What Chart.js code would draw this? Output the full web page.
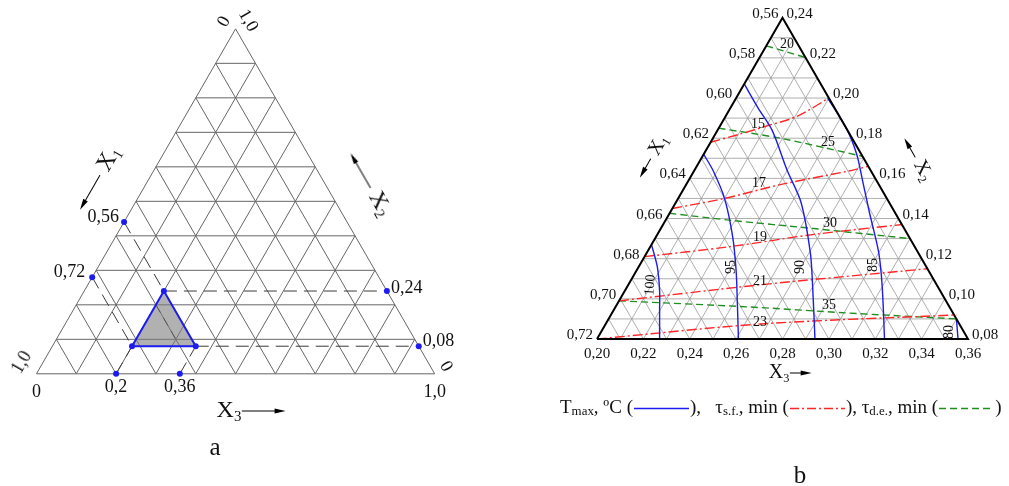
<!DOCTYPE html>
<html><head><meta charset="utf-8">
<script src="https://cdn.jsdelivr.net/npm/chart.js@4.4.1/dist/chart.umd.min.js"></script>
<style>
html,body{margin:0;padding:0;background:#fff;}
#wrap{position:relative;width:1009px;height:486px;overflow:hidden;font-family:"Liberation Serif","Times New Roman",serif;color:#111;}
canvas{position:absolute;top:0;}
.lbl{position:absolute;white-space:nowrap;line-height:1;}
.lbl sub{font-size:0.62em;vertical-align:baseline;position:relative;top:0.3em;}
.sb{font-size:0.68em;position:relative;top:0.15em;}
</style></head><body>
<div id="wrap">
<canvas id="ca" width="480" height="486" style="left:0"></canvas>
<canvas id="cb" width="509" height="486" style="left:500px"></canvas>
</div>
<script>
// ===== Diagram a: full simplex, grid step 0.1 =====
const aGrid = [0.1,0.2,0.3,0.4,0.5,0.6,0.7,0.8,0.9];
const aRegionX1 = [0.56, 0.72];
const aRegionX2 = [0.08, 0.24];
const aRegionX3 = [0.20, 0.36];
const aInnerGuide = [[0.20,0.20],[0.31,0.09]]; // [X3, X2]

// ===== Diagram b: local simplex X1 0.56-0.72, X2 0.08-0.24, X3 0.20-0.36 =====
const bGridX1 = [0.57,0.58,0.59,0.60,0.61,0.62,0.63,0.64,0.65,0.66,0.67,0.68,0.69,0.70,0.71];
const bGridX2 = [0.09,0.10,0.11,0.12,0.13,0.14,0.15,0.16,0.17,0.18,0.19,0.20,0.21,0.22,0.23];
const bGridX3 = [0.21,0.22,0.23,0.24,0.25,0.26,0.27,0.28,0.29,0.30,0.31,0.32,0.33,0.34,0.35];
const bTickX1 = [0.56,0.58,0.60,0.62,0.64,0.66,0.68,0.70,0.72];
const bTickX2 = [0.24,0.22,0.20,0.18,0.16,0.14,0.12,0.10,0.08];
const bTickX3 = [0.20,0.22,0.24,0.26,0.28,0.30,0.32,0.34,0.36];

// Tmax isotherms, points [X3, X2]
const tmax100 = [[0.200,0.127],[0.208,0.116],[0.215,0.104],[0.220,0.094],[0.227,0.080]];
const tmax95  = [[0.200,0.172],[0.208,0.164],[0.220,0.150],[0.233,0.131],[0.243,0.114],[0.251,0.099],[0.261,0.080]];
const tmax90  = [[0.200,0.207],[0.212,0.195],[0.2235,0.184],[0.240,0.164],[0.254,0.148],[0.2705,0.123],[0.280,0.106],[0.294,0.080]];
const tmax85  = [[0.2395,0.200],[0.255,0.185],[0.266,0.172],[0.275,0.159],[0.286,0.143],[0.300,0.123],[0.310,0.106],[0.324,0.080]];
const tmax80  = [[0.350,0.090],[0.3557,0.080]];
// tau s.f. lines
const tsf15 = [[0.200,0.178],[0.2105,0.182],[0.220,0.186],[0.231,0.191],[0.240,0.200]];
const tsf17 = [[0.200,0.145],[0.220,0.150],[0.241,0.157],[0.268,0.164],[0.274,0.166]];
const tsf19 = [[0.200,0.121],[0.2345,0.126],[0.267,0.132],[0.303,0.137]];
const tsf21 = [[0.200,0.099],[0.257,0.107],[0.325,0.115]];
const tsf23 = [[0.200,0.080],[0.267,0.0875],[0.349,0.092]];
// tau d.e. lines
const tde20 = [[0.200,0.226],[0.2205,0.220]];
const tde25 = [[0.200,0.185],[0.229,0.180],[0.269,0.171]];
const tde30 = [[0.200,0.1426],[0.229,0.139],[0.266,0.135],[0.310,0.130]];
const tde35 = [[0.200,0.099],[0.257,0.096],[0.301,0.093],[0.350,0.090]];
// labels [text, X3, X2, rotation]
const tmaxLabels = [["100",0.2094,0.1068,-86],["95",0.2399,0.1158,-90],["90",0.2697,0.1158,-90],["85",0.3006,0.1168,-90],["80",0.3501,0.0835,-90]];
const tsfLabels = [["15",0.2158,0.1873],["17",0.2311,0.1575],["19",0.245,0.1307],["21",0.2559,0.1088],["23",0.2661,0.0884]];
const tdeLabels = [["20",0.2084,0.2271],["25",0.2507,0.1779],["30",0.2717,0.1376],["35",0.2916,0.0969]];

const S = Math.sqrt(3)/2;
const BLUE = '#1c1cf0', RED = '#ff2626', GREEN = '#1f8f1f';
function cartA(x3, x2){ return {x: x3 + x2/2, y: x2*S}; }
function cartB(x3, x2){ return {x: x3 + (x2-0.08)/2, y: (x2-0.08)*S}; }
function line(pts, color, width, dash, order, tension){
  return {data: pts, showLine: true, pointRadius: 0, borderColor: color, borderWidth: width,
          borderDash: dash || [], fill: false, order: order, tension: tension || 0, borderCapStyle:'butt'};
}
function frame(K, baseX, baseLeftPx, baseYPx, w, h){
  const xmin = baseX - baseLeftPx/K;
  const ymax = baseYPx/K;
  return {xmin, xmax: xmin + w/K, ymin: ymax - h/K, ymax};
}
function makeChart(id, datasets, f){
  return new Chart(document.getElementById(id), {
    type: 'scatter',
    data: {datasets},
    options: {
      responsive: false, animation: false, events: [],
      layout: {padding: 0},
      plugins: {legend: {display: false}, tooltip: {enabled: false}, title: {display: false}},
      scales: {
        x: {type: 'linear', display: false, min: f.xmin, max: f.xmax},
        y: {type: 'linear', display: false, min: f.ymin, max: f.ymax}
      }
    }
  });
}

// ---------- chart a ----------
const dsA = [];
const gA = '#666666';
aGrid.forEach(v => {
  dsA.push(line([cartA(0, v), cartA(1 - v, v)], gA, 1, [], 20));
  dsA.push(line([cartA(v, 0), cartA(v, 1 - v)], gA, 1, [], 20));
  dsA.push(line([cartA(0, 1 - v), cartA(1 - v, 0)], gA, 1, [], 20));
});
dsA.push(line([cartA(0,0), cartA(1,0), cartA(0,1), cartA(0,0)], gA, 1, [], 19));
const [r1lo, r1hi] = aRegionX1, [r2lo, r2hi] = aRegionX2, [r3lo, r3hi] = aRegionX3;
const vBL = cartA(r3lo, r2lo), vT = cartA(r3lo, r2hi), vBR = cartA(r3hi, r2lo);
// shaded region
dsA.push({data: [vBL, vT, vBR], showLine: true, pointRadius: 0, borderWidth: 0, borderColor: 'rgba(0,0,0,0)',
          backgroundColor: 'rgba(125,125,125,0.6)', fill: {value: vBL.y}, order: 14});
// dashed guides
const dA = '#3a3a3a', dashA = [13, 7];
dsA.push(line([vT, cartA(1 - r2hi, r2hi)], dA, 1, dashA, 10));
dsA.push(line([vBR, cartA(1 - r2lo, r2lo)], dA, 1, dashA, 10));
dsA.push(line([cartA(0, 1 - r1lo), vT], dA, 1, dashA, 10));
dsA.push(line([cartA(0, 1 - r1hi), vBL], dA, 1, dashA, 10));
dsA.push(line([cartA(r3lo, 0), vBL], dA, 1, dashA, 10));
dsA.push(line([cartA(r3hi, 0), vBR], dA, 1, dashA, 10));
dsA.push(line(aInnerGuide.map(p => cartA(p[0], p[1])), '#555', 1, [9, 6], 10));
// region border
dsA.push(line([vBL, vT, vBR, vBL], BLUE, 2, [], 5));
// marker dots
const dotsA = [cartA(0, 1 - r1lo), cartA(0, 1 - r1hi), cartA(1 - r2hi, r2hi), cartA(1 - r2lo, r2lo),
               cartA(r3lo, 0), cartA(r3hi, 0), vBL, vT, vBR];
dsA.push({data: dotsA, showLine: false, pointRadius: 3, pointBackgroundColor: BLUE, pointBorderColor: BLUE, pointBorderWidth: 0, order: 1});
const fA = frame(405, 0, 33, 376, 480, 486);
const chartA = makeChart('ca', dsA, fA);

// ---------- chart b ----------
const dsB = [];
const gB = '#9a9a9a';
bGridX2.forEach(v => dsB.push(line([cartB(0.20, v), cartB(0.44 - v, v)], gB, 0.8, [], 20)));
bGridX3.forEach(c => dsB.push(line([cartB(c, 0.08), cartB(c, 0.44 - c)], gB, 0.8, [], 20)));
bGridX1.forEach(a => dsB.push(line([cartB(0.20, 0.80 - a), cartB(0.92 - a, 0.08)], gB, 0.8, [], 20)));
const toB = arr => arr.map(p => cartB(p[0], p[1]));
[tmax100, tmax95, tmax90, tmax85, tmax80].forEach(c => dsB.push(line(toB(c), BLUE, 1.4, [], 8, 0.3)));
[tsf15, tsf17, tsf19, tsf21, tsf23].forEach(c => dsB.push(line(toB(c), RED, 1.4, [10, 3, 2, 3], 9, 0.3)));
[tde20, tde25, tde30, tde35].forEach(c => dsB.push(line(toB(c), GREEN, 1.4, [7, 4], 9, 0.3)));
dsB.push(line([cartB(0.20,0.08), cartB(0.36,0.08), cartB(0.20,0.24), cartB(0.20,0.08)], '#000', 2, [], 4));
const fB = frame(2318.75, 0.20, 97, 339, 509, 486);
const chartB = makeChart('cb', dsB, fB);

// ---------- text ----------
const wrap = document.getElementById('wrap');
function addText(x, y, html, o){
  const d = document.createElement('div');
  d.className = 'lbl';
  d.innerHTML = html;
  d.style.left = x + 'px';
  d.style.top = y + 'px';
  d.style.fontSize = (o.size || 15) + 'px';
  const tx = o.align === 'r' ? '-100%' : o.align === 'l' ? '0' : '-50%';
  d.style.transform = 'translate(' + tx + ',-50%)' + (o.rot ? ' rotate(' + o.rot + 'deg)' : '');
  wrap.appendChild(d);
}
function pix(chart, left, p){
  return [left + chart.scales.x.getPixelForValue(p.x), chart.scales.y.getPixelForValue(p.y)];
}
function labelAt(chart, left, p, html, o){
  const [x, y] = pix(chart, left, p);
  addText(x + (o.dx || 0), y + (o.dy || 0), html, o);
}
const fmtA = v => String(v).replace('.', ',');
const fmtB = v => v.toFixed(2).replace('.', ',');
function arrowSvg(len, dir){
  const h = 8, m = h/2;
  const head = dir === 'r'
    ? `<polygon points="${len-11},${m-2.6} ${len},${m} ${len-11},${m+2.6}" fill="#000"/><line x1="0" y1="${m}" x2="${len-8}" y2="${m}" stroke="#000" stroke-width="1"/>`
    : `<polygon points="11,${m-2.6} 0,${m} 11,${m+2.6}" fill="#000"/><line x1="8" y1="${m}" x2="${len}" y2="${m}" stroke="#000" stroke-width="1"/>`;
  return `<svg width="${len}" height="${h}" style="vertical-align:middle">${head}</svg>`;
}

// a labels
const SA = 18;
aRegionX1.forEach((v, i) => labelAt(chartA, 0, cartA(0, 1 - v), fmtA(v), {align: 'r', dx: i ? -7 : -5, dy: -6, size: SA}));
aRegionX2.slice().reverse().forEach((v, i) => labelAt(chartA, 0, cartA(1 - v, v), fmtA(v), {align: 'l', dx: 4, dy: i ? -6 : -4, size: SA}));
aRegionX3.forEach(v => labelAt(chartA, 0, cartA(v, 0), fmtA(v), {align: 'c', dy: 12, size: SA}));
labelAt(chartA, 0, cartA(0, 0), '0', {align: 'c', dy: 17, size: SA});
labelAt(chartA, 0, cartA(1, 0), '1,0', {align: 'c', dy: 17, size: SA});
labelAt(chartA, 0, cartA(0, 0), '1,0', {align: 'c', dx: -15, dy: -12, rot: -60, size: SA});
labelAt(chartA, 0, cartA(0, 1), '0', {align: 'c', dx: -13, dy: -8, rot: -60, size: SA});
labelAt(chartA, 0, cartA(0, 1), '1,0', {align: 'c', dx: 13, dy: -9, rot: 60, size: SA});
labelAt(chartA, 0, cartA(1, 0), '0', {align: 'c', dx: 12, dy: -8, rot: 60, size: SA});
addText(96, 178, arrowSvg(40, 'l') + '&nbsp;X<sub>1</sub>', {align: 'c', rot: -60, size: 24});
addText(370, 183, arrowSvg(40, 'l') + '&nbsp;X<sub>2</sub>', {align: 'c', rot: 60, size: 24});
addText(251, 409, 'X<sub>3</sub>' + arrowSvg(44, 'r'), {align: 'c', size: 24});
addText(215, 446, 'a', {align: 'c', size: 25});

// b labels
const SB = 15;
bTickX1.forEach(v => labelAt(chartB, 500, cartB(0.20, 0.80 - v), fmtB(v), {align: 'r', dx: -4, dy: -5, size: SB}));
bTickX2.forEach(v => labelAt(chartB, 500, cartB(0.44 - v, v), fmtB(v), {align: 'l', dx: 4, dy: -5, size: SB}));
bTickX3.forEach(v => labelAt(chartB, 500, cartB(v, 0.08), fmtB(v), {align: 'c', dy: 14, size: SB}));
tmaxLabels.forEach(l => labelAt(chartB, 500, cartB(l[1], l[2]), l[0], {align: 'c', rot: l[3], size: 14}));
tsfLabels.forEach(l => labelAt(chartB, 500, cartB(l[1], l[2]), l[0], {align: 'c', size: 14}));
tdeLabels.forEach(l => labelAt(chartB, 500, cartB(l[1], l[2]), l[0], {align: 'c', size: 14}));
addText(650, 156, arrowSvg(22, 'l') + '&nbsp;X<sub>1</sub>', {align: 'c', rot: -60, size: 20});
addText(918, 158, arrowSvg(22, 'l') + '&nbsp;X<sub>2</sub>', {align: 'c', rot: 60, size: 20});
addText(790, 371, 'X<sub>3</sub>' + arrowSvg(22, 'r'), {align: 'c', size: 20});
addText(800, 474, 'b', {align: 'c', size: 25});

function legLine(color, dash){
  return `<svg width="55" height="6" style="vertical-align:middle;margin:0 1px"><line x1="0" y1="3" x2="55" y2="3" stroke="${color}" stroke-width="1.5" stroke-dasharray="${dash}"/></svg>`;
}
addText(560, 406,
  'T<span class="sb">max</span>, ºC (' + legLine(BLUE, '') + '),&nbsp;&nbsp; τ<span class="sb">s.f.</span>, min (' +
  legLine(RED, '9,3,2,3') + '), τ<span class="sb">d.e.</span>, min (' + legLine(GREEN, '7,4') + ')',
  {align: 'l', size: 19});
</script>
</body></html>
